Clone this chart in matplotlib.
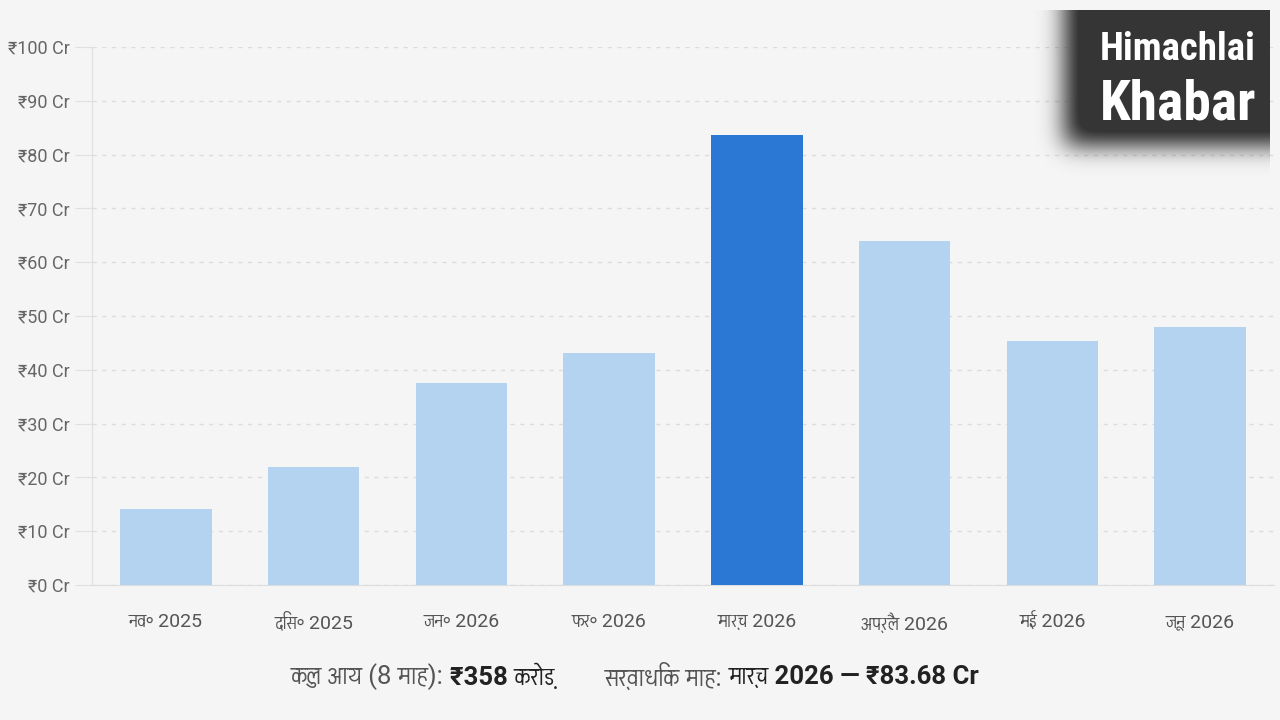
import numpy as np
import matplotlib
matplotlib.use('Agg')
import matplotlib.pyplot as plt
from matplotlib import font_manager as fm
from matplotlib.ft2font import FT2Font

months = ['नव॰ 2025', 'दिस॰ 2025', 'जन॰ 2026', 'फर॰ 2026',
          'मार्च 2026', 'अप्रैल 2026', 'मई 2026', 'जून 2026']
income = [14.2, 22.0, 37.6, 43.2, 83.68, 64.0, 45.4, 47.9]
y_ticks = [0, 10, 20, 30, 40, 50, 60, 70, 80, 90, 100]
y_labels = ['₹%d Cr' % v for v in y_ticks]
footer = [('कुल आय (8 माह): ', False), ('₹358 करोड़', True), ('        ', False),
          ('सर्वाधिक माह: ', False), ('मार्च 2026 — ₹83.68 Cr', True)]


def find_deva():
    # fonts with devanagari glyphs, proportional ones first
    found = []
    for f in fm.fontManager.ttflist:
        try:
            if 0x0915 in FT2Font(f.fname).get_charmap():
                found.append(f.name)
        except Exception:
            pass
    found = sorted(set(found), key=lambda n: ('mono' in n.lower(), n))
    return found


deva = find_deva()
fams = ['Roboto', 'DejaVu Sans'] + deva[:1]
plt.rcParams['font.family'] = fams

BG = '#f5f5f5'
LIGHT = '#b3d3f1'
DARK = '#2a78d4'

fig = plt.figure(figsize=(12.8, 7.2), dpi=100, facecolor=BG)
ax = fig.add_axes([92 / 1280, 1 - 585 / 720, 1182 / 1280, 538 / 720], facecolor=BG)

x = np.arange(len(months))
colors = [DARK if v == max(income) else LIGHT for v in income]
ax.bar(x, income, width=0.62, color=colors, zorder=3)

ax.set_xlim(-0.5, len(months) - 0.5)
ax.set_ylim(0, 100)
ax.set_yticks(y_ticks)
ax.set_yticklabels(y_labels, fontsize=13, color='#666666')
ax.set_xticks(x)
ax.set_xticklabels(months, fontsize=14, color='#555555')
ax.tick_params(axis='y', length=12, color='#e0e0e0', pad=4)
ax.tick_params(axis='x', length=0, pad=20)
ax.grid(axis='y', color='#dcdcdc', linestyle=(0, (3, 4)), linewidth=1, zorder=0)
for s in ['top', 'right']:
    ax.spines[s].set_visible(False)
ax.spines['left'].set_color('#e0e0e0')
ax.spines['bottom'].set_color('#dddddd')

# footer with mixed weights, centred
renderer = fig.canvas.get_renderer()
texts = []
for s, bold in footer:
    t = fig.text(0, 1 - 677 / 720, s, fontsize=18.5, va='center',
                 fontweight='bold' if bold else 'normal',
                 color='#222222' if bold else '#555555')
    texts.append(t)
widths = [t.get_window_extent(renderer).width for t in texts]
xpos = 635 - sum(widths) / 2
for t, w in zip(texts, widths):
    t.set_x(xpos / 1280)
    xpos += w

# watermark box: sharp top/right, blurred left/bottom
H, W = 200, 260
P = 60
yy, xx = np.mgrid[0:H, 0:W]
mask = ((xx > 34) & (yy < 145)).astype(float)
mask = np.pad(mask, P, mode='edge')
k = np.exp(-np.arange(-40, 41) ** 2 / (2 * 12.0 ** 2))
k /= k.sum()
mask = np.apply_along_axis(lambda r: np.convolve(r, k, mode='same'), 1, mask)
mask = np.apply_along_axis(lambda c: np.convolve(c, k, mode='same'), 0, mask)
mask = mask[P:-P, P:-P]
mask[:10, :] = 0
mask[:, 240:] = 0
img = np.zeros((H, W, 4))
img[..., :3] = 0.21
img[..., 3] = np.clip(mask * 1.15, 0, 1)
wax = fig.add_axes([1030 / 1280, 1 - 200 / 720, W / 1280, H / 720])
wax.imshow(img, extent=(0, W, H, 0), interpolation='bilinear')
wax.set_xlim(0, W)
wax.set_ylim(H, 0)
wax.axis('off')
logo_font = ['Roboto Condensed', 'Liberation Sans Narrow', 'DejaVu Sans']
wax.text(226, 49, 'Himachlai', color='white', fontsize=28, fontweight='bold',
         family=logo_font, stretch='condensed', ha='right', va='center')
wax.text(226, 104, 'Khabar', color='white', fontsize=40, fontweight='bold',
         family=logo_font, stretch='condensed', ha='right', va='center')

fig.savefig('out.png', dpi=100, facecolor=BG)
